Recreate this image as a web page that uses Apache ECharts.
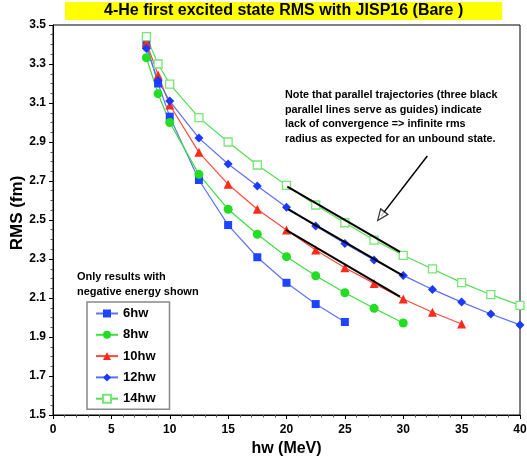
<!DOCTYPE html>
<html>
<head>
<meta charset="utf-8">
<script src="https://cdn.jsdelivr.net/npm/echarts@6/dist/echarts.min.js"></script>
<style>html,body{margin:0;padding:0;background:#fff}#c{width:527px;height:461px}</style>
</head>
<body>
<div id="c"></div>
<script>
// ---- data ----
const seriesNames = ['6hw', '8hw', '10hw', '12hw', '14hw'];
const x6  = [8, 9, 10, 12.5, 15, 17.5, 20, 22.5, 25];
const rms6 = [3.40, 3.20, 3.03, 2.705, 2.474, 2.309, 2.178, 2.069, 1.977];
const x8  = [8, 9, 10, 12.5, 15, 17.5, 20, 22.5, 25, 27.5, 30];
const rms8 = [3.332, 3.148, 3.00, 2.734, 2.555, 2.427, 2.312, 2.214, 2.127, 2.047, 1.972];
const x10 = [8, 9, 10, 12.5, 15, 17.5, 20, 22.5, 25, 27.5, 30, 32.5, 35];
const rms10 = [3.41, 3.244, 3.09, 2.847, 2.683, 2.555, 2.449, 2.346, 2.255, 2.175, 2.095, 2.027, 1.967];
const x12 = [8, 9, 10, 12.5, 15, 17.5, 20, 22.5, 25, 27.5, 30, 32.5, 35, 37.5, 40];
const rms12 = [3.38, 3.215, 3.11, 2.92, 2.787, 2.674, 2.565, 2.469, 2.38, 2.295, 2.216, 2.144, 2.079, 2.018, 1.962];
const x14 = [8, 9, 10, 12.5, 15, 17.5, 20, 22.5, 25, 27.5, 30, 32.5, 35, 37.5, 40];
const rms14 = [3.44, 3.30, 3.197, 3.025, 2.90, 2.782, 2.678, 2.577, 2.486, 2.397, 2.319, 2.249, 2.179, 2.117, 2.062];
// guide lines (three black parallel lines)
const guideA = [[20.07, 2.671], [29.72, 2.337]];
const guideB = [[20.15, 2.555], [30.0, 2.214]];
const guideC = [[19.96, 2.449], [29.72, 2.107]];
// arrow (tail -> head)
const arrowPts = [[32.06, 2.828], [28.09, 2.52]];
const titleText = '4-He first excited state RMS with JISP16 (Bare )';
const yTitle = 'RMS (fm)';
const xTitle = 'hw (MeV)';
const noteText = 'Note that parallel trajectories (three black\nparallel lines serve as guides) indicate\nlack of convergence => infinite rms\nradius as expected for an unbound state.';
const legendNote = 'Only results with\nnegative energy shown';

const zip = (xs, ys) => xs.map((x, i) => [x, ys[i]]);
const FONT = '"Liberation Sans", Arial, Helvetica, sans-serif';

const chart = echarts.init(document.getElementById('c'), null, {renderer: 'canvas'});

function dataSeries(name, data, symbol, size, color, lineColor, hollow) {
  return {
    name, type: 'line', data, symbol, symbolSize: size,
    showAllSymbol: true,
    lineStyle: {color: lineColor, width: 1.2},
    itemStyle: hollow ? {color: '#fff', borderColor: color, borderWidth: 1.3}
                      : {color: color, borderColor: color, borderWidth: 0},
    emphasis: {disabled: true},
    z: 3
  };
}
function guide(data) {
  return {type: 'line', data, symbol: 'none', lineStyle: {color: '#000', width: 2}, z: 4, silent: true};
}

chart.setOption({
  animation: false,
  backgroundColor: '#fff',
  title: {
    text: titleText,
    left: 65, top: 2,
    padding: [0, 39, 0, 39],
    backgroundColor: '#ffff00',
    textStyle: {fontFamily: FONT, fontWeight: 'bold', fontSize: 16, color: '#000', lineHeight: 18}
  },
  grid: {left: 53, right: 7, top: 25, bottom: 46, show: true, borderColor: '#000', borderWidth: 1,
         backgroundColor: 'transparent', containLabel: false, outerBoundsMode: 'none'},
  xAxis: {
    type: 'value', min: 0, max: 40, interval: 5,
    name: xTitle, nameLocation: 'middle', nameGap: 23,
    nameTextStyle: {fontFamily: FONT, fontWeight: 'bold', fontSize: 16, color: '#000'},
    axisLine: {show: true, lineStyle: {color: '#000', width: 1}},
    axisTick: {show: true, length: 4, lineStyle: {color: '#000'}},
    minorTick: {show: true, splitNumber: 5, length: 2.5, lineStyle: {color: '#555'}},
    splitLine: {show: false},
    axisLabel: {fontFamily: FONT, fontWeight: 'bold', fontSize: 12, color: '#000', margin: 9}
  },
  yAxis: {
    type: 'value', min: 1.5, max: 3.5, interval: 0.2,
    axisLine: {show: true, lineStyle: {color: '#000', width: 1}},
    axisTick: {show: true, length: 4, lineStyle: {color: '#000'}},
    minorTick: {show: true, splitNumber: 4, length: 2.5, lineStyle: {color: '#555'}},
    splitLine: {show: false},
    axisLabel: {fontFamily: FONT, fontWeight: 'bold', fontSize: 12, color: '#000', margin: 7,
      formatter: v => v.toFixed(1)}
  },
  legend: {
    data: seriesNames,
    orient: 'vertical', left: 87, top: 302,
    itemWidth: 22, itemHeight: 10, itemGap: 8.3,
    padding: [5, 14, 4, 8],
    borderColor: '#888', borderWidth: 1.5,
    textStyle: {fontFamily: FONT, fontWeight: 'bold', fontSize: 13, color: '#000'},
    selectedMode: false
  },
  graphic: [
    {type: 'text', x: 17, y: 213, rotation: Math.PI / 2,
     style: {text: yTitle, fontFamily: FONT, fontWeight: 'bold', fontSize: 17, fill: '#000', align: 'center', verticalAlign: 'middle'}},
    {type: 'text', left: 77, top: 269, style: {text: legendNote, fontFamily: FONT, fontWeight: 'bold', fontSize: 11, lineHeight: 15, fill: '#000'}},
    {type: 'text', left: 285, top: 88, style: {text: noteText, fontFamily: FONT, fontWeight: 'bold', fontSize: 10.8, lineHeight: 14.6, fill: '#000'}}
  ],
  series: [
    dataSeries('6hw', zip(x6, rms6), 'rect', 8, '#1f44ff', '#5a72ff', false),
    dataSeries('8hw', zip(x8, rms8), 'circle', 9, '#22dd22', '#3ddd3d', false),
    dataSeries('10hw', zip(x10, rms10), 'triangle', 9, '#ff2a1a', '#ff4a3a', false),
    dataSeries('12hw', zip(x12, rms12), 'diamond', 9, '#1a3aff', '#5a6fff', false),
    dataSeries('14hw', zip(x14, rms14), 'rect', 8, '#77e677', '#55dd55', true),
    guide(guideA), guide(guideB), guide(guideC),
    {type: 'line', data: arrowPts, symbol: 'none', lineStyle: {color: '#000', width: 1.5}, z: 5, silent: true},
    {type: 'scatter', data: [arrowPts[1]], symbol: 'triangle', symbolSize: [9, 11], symbolRotate: 143,
     itemStyle: {color: '#fff', borderColor: '#000', borderWidth: 1.3}, z: 6, silent: true}
  ]
});
</script>
</body>
</html>
